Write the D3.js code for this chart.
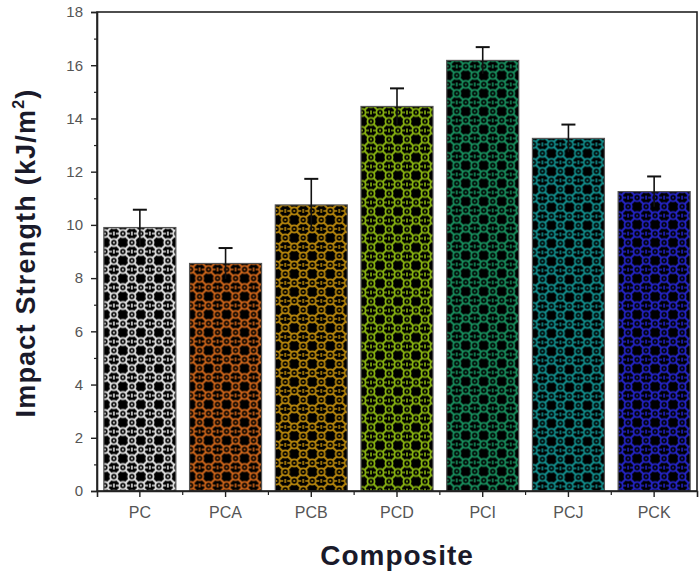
<!DOCTYPE html>
<html>
<head>
<meta charset="utf-8">
<script src="https://cdn.jsdelivr.net/npm/d3@7"></script>
<style>
  body { margin: 0; background: #fff; }
  text { font-family: "Liberation Sans", Arial, sans-serif; }
</style>
</head>
<body>
<svg id="chart"></svg>
<script>
var categories = ["PC", "PCA", "PCB", "PCD", "PCI", "PCJ", "PCK"];
var values = [9.9, 8.55, 10.75, 14.45, 16.18, 13.25, 11.25];
var errors = [0.67, 0.58, 0.98, 0.68, 0.5, 0.52, 0.57];
var colors = ["#e6e6e6", "#d0661a", "#b8870c", "#86b010", "#18905e", "#12908e", "#2424c8"];
var yTicks = [0, 2, 4, 6, 8, 10, 12, 14, 16, 18];

var settings = { width: 700, height: 578 };
var margin = { top: 12, right: 3, bottom: 87, left: 97 };

var svg = d3.select("#chart")
    .attr("width", settings.width)
    .attr("height", settings.height);

var innerW = settings.width - margin.left - margin.right;
var innerH = settings.height - margin.top - margin.bottom;

var x = d3.scaleBand()
    .domain(categories)
    .range([0, innerW])
    .paddingInner(0.16)
    .paddingOuter(0.08);

var y = d3.scaleLinear()
    .domain([0, 18])
    .range([innerH, 0]);

/* patterns: black ground with a coloured chain lattice */
var defs = svg.append("defs");
var cell = 18;
colors.forEach(function (c, i) {
    var p = defs.append("pattern")
        .attr("id", "pat" + i)
        .attr("patternUnits", "userSpaceOnUse")
        .attr("width", cell)
        .attr("height", cell)
        .attr("x", margin.left + x(categories[i]) + 3)
        .attr("y", margin.top + y(values[i]) + 3);
    p.append("rect").attr("width", cell).attr("height", cell).attr("fill", "#000");
    var h = cell / 2;
    // diagonal links
    p.append("path")
        .attr("d", "M0,0L" + cell + "," + cell + "M" + cell + ",0L0," + cell)
        .attr("stroke", c).attr("stroke-width", 2);
    // short links through the centre
    p.append("path")
        .attr("d", "M" + (h - 7) + "," + h + "H" + (h + 7) + "M0," + (h - 2) + "V" + (h + 2) + "M" + cell + "," + (h - 2) + "V" + (h + 2))
        .attr("stroke", c).attr("stroke-width", 1.6);
    [[0, 0], [cell, 0], [0, cell], [cell, cell], [h, h]].forEach(function (pt) {
        p.append("circle")
            .attr("cx", pt[0]).attr("cy", pt[1]).attr("r", 3.6)
            .attr("fill", "#000").attr("stroke", c).attr("stroke-width", 1.8);
        p.append("circle")
            .attr("cx", pt[0]).attr("cy", pt[1]).attr("r", 1.1)
            .attr("fill", c);
    });
});

var g = svg.append("g")
    .attr("transform", "translate(" + margin.left + "," + margin.top + ")");

/* bars */
g.selectAll("rect.bar")
    .data(categories)
    .enter()
    .append("rect")
    .attr("class", "bar")
    .attr("x", function (d) { return x(d); })
    .attr("y", function (d, i) { return y(values[i]); })
    .attr("width", x.bandwidth())
    .attr("height", function (d, i) { return innerH - y(values[i]); })
    .attr("fill", function (d, i) { return "url(#pat" + i + ")"; })
    .attr("stroke", "#555")
    .attr("stroke-width", 1.2);

/* error bars */
var eb = g.selectAll("g.err")
    .data(categories)
    .enter()
    .append("g")
    .attr("class", "err");
eb.append("line")
    .attr("x1", function (d) { return x(d) + x.bandwidth() / 2; })
    .attr("x2", function (d) { return x(d) + x.bandwidth() / 2; })
    .attr("y1", function (d, i) { return y(values[i] - errors[i]); })
    .attr("y2", function (d, i) { return y(values[i] + errors[i]); })
    .attr("stroke", "#111").attr("stroke-width", 1.6);
eb.append("line")
    .attr("x1", function (d) { return x(d) + x.bandwidth() / 2 - 7; })
    .attr("x2", function (d) { return x(d) + x.bandwidth() / 2 + 7; })
    .attr("y1", function (d, i) { return y(values[i] + errors[i]); })
    .attr("y2", function (d, i) { return y(values[i] + errors[i]); })
    .attr("stroke", "#111").attr("stroke-width", 2);

/* frame */
g.append("rect")
    .attr("width", innerW).attr("height", innerH)
    .attr("fill", "none").attr("stroke", "#222").attr("stroke-width", 1.6);

/* y axis */
var yAxis = d3.axisLeft(y).tickValues(yTicks).tickSize(6).tickPadding(8);
var ya = g.append("g").call(yAxis);
ya.select(".domain").attr("stroke", "#222").attr("stroke-width", 1.6);
ya.selectAll(".tick line").attr("stroke", "#222").attr("stroke-width", 1.4);
ya.selectAll(".tick text").attr("font-size", 15).attr("fill", "#555");
var yMinor = d3.axisLeft(y).tickValues(d3.range(1, 18, 2)).tickSize(3).tickFormat("");
var ym = g.append("g").call(yMinor);
ym.select(".domain").remove();
ym.selectAll(".tick line").attr("stroke", "#222").attr("stroke-width", 1.2);

/* x axis */
var xAxis = d3.axisBottom(x).tickSize(6).tickPadding(10);
var xa = g.append("g").attr("transform", "translate(0," + innerH + ")").call(xAxis);
xa.select(".domain").attr("stroke", "#222").attr("stroke-width", 1.6);
xa.selectAll(".tick line").attr("stroke", "#222").attr("stroke-width", 1.4);
xa.selectAll(".tick text").attr("font-size", 16).attr("fill", "#555");
var bounds = categories.slice(1).map(function (d) { return x(d) - x.step() * x.paddingInner() / 2; });
xa.selectAll("line.minor")
    .data(bounds)
    .enter()
    .append("line")
    .attr("class", "minor")
    .attr("x1", function (d) { return d; }).attr("x2", function (d) { return d; })
    .attr("y1", 0).attr("y2", 4)
    .attr("stroke", "#222").attr("stroke-width", 1.2);

/* axis titles */
svg.append("text")
    .attr("x", 397)
    .attr("y", 565)
    .attr("text-anchor", "middle")
    .attr("font-size", 28)
    .attr("font-weight", "bold")
    .attr("letter-spacing", 1)
    .attr("fill", "#1a1a2a")
    .text("Composite");

var yl = svg.append("text")
    .attr("transform", "translate(35," + 253 + ") rotate(-90)")
    .attr("text-anchor", "middle")
    .attr("font-size", 27)
    .attr("font-weight", "bold")
    .attr("letter-spacing", 1.2)
    .attr("fill", "#1a1a2a");
yl.append("tspan").text("Impact Strength (kJ/m");
yl.append("tspan").attr("font-size", 16).attr("dy", -11).text("2");
yl.append("tspan").attr("dy", 11).text(")");
</script>
</body>
</html>
